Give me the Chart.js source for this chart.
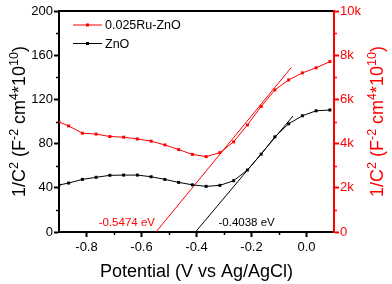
<!DOCTYPE html>
<html>
<head>
<meta charset="utf-8">
<script src="https://cdn.jsdelivr.net/npm/chart.js@4.4.1/dist/chart.umd.min.js"></script>
<style>
  html, body { margin: 0; padding: 0; background: #fff; }
  #chart { display: block; }
</style>
</head>
<body>
<canvas id="chart" width="392" height="284"></canvas>
<script>
// Potential (V vs Ag/AgCl) of each measured point
const potential = [-0.9, -0.865, -0.815, -0.765, -0.715, -0.665, -0.615, -0.565, -0.515, -0.465,
    -0.415, -0.365, -0.315, -0.265, -0.215, -0.165, -0.115, -0.065, -0.015, 0.035, 0.085];

// 1/C^2 values, ZnO on left axis, Ru-ZnO on right axis
const znoValues = [42.5, 44.3, 47.6, 49.5, 51.3, 51.5, 51.5, 50.0, 47.6, 44.9,
    42.7, 41.3, 42.2, 46.4, 56.1, 70.4, 86.1, 97.9, 105.2, 109.7, 110.4];
const ruZnoValues = [4980, 4800, 4470, 4430, 4320, 4290, 4210, 4110, 3940, 3730,
    3510, 3410, 3590, 4080, 4840, 5680, 6430, 6880, 7200, 7430, 7710];

// Mott-Schottky tangent lines (x-intercept to upper end)
const ruFitX = [-0.5474, -0.055];
const ruFitY = [0, 7450];
const znoFitX = [-0.4038, -0.049];
const znoFitY = [0, 105];

// Axis ticks
const xTicks = [-0.8, -0.6, -0.4, -0.2, 0.0];
const xMinorTicks = [-0.7, -0.5, -0.3, -0.1];
const yTicks = [0, 40, 80, 120, 160, 200];
const yMinorTicks = [20, 60, 100, 140, 180];
const y2Ticks = [0, 2000, 4000, 6000, 8000, 10000];
const y2MinorTicks = [1000, 3000, 5000, 7000, 9000];

const seriesLabels = ['0.025Ru-ZnO', 'ZnO'];
const fitLabels = ['-0.5474 eV', '-0.4038 eV'];

const RED = '#ff0000';
const BLACK = '#000000';
const FONT = "'Liberation Sans', Arial, sans-serif";

const toPoints = (xs, ys) => xs.map((x, i) => ({ x: x, y: ys[i] }));

// draws text with superscript parts, centered on (0,0) along current x direction
function drawRich(ctx, parts, color) {
    const big = '18px ' + FONT;
    const small = '12.5px ' + FONT;
    let total = 0;
    parts.forEach(p => {
        ctx.font = p.sup ? small : big;
        p.w = ctx.measureText(p.t).width;
        total += p.w;
    });
    let x = -total / 2;
    ctx.fillStyle = color;
    ctx.textBaseline = 'alphabetic';
    ctx.textAlign = 'left';
    parts.forEach(p => {
        ctx.font = p.sup ? small : big;
        ctx.fillText(p.t, x, p.sup ? -7 : 0);
        x += p.w;
    });
}

const yTitleParts = () => [
    { t: '1/C' }, { t: '2', sup: true }, { t: ' (F' }, { t: '-2', sup: true },
    { t: ' cm' }, { t: '4', sup: true }, { t: '*10' }, { t: '10', sup: true }, { t: ')' }
];

const decorPlugin = {
    id: 'decor',
    afterDraw(chart) {
        const ctx = chart.ctx;
        const area = chart.chartArea;
        const xs = chart.scales.x, ys = chart.scales.y, y2s = chart.scales.y2;
        ctx.save();

        // top frame
        ctx.strokeStyle = BLACK;
        ctx.lineWidth = 2;
        ctx.beginPath();
        ctx.moveTo(area.left, area.top);
        ctx.lineTo(area.right - 1, area.top);
        ctx.stroke();

        // minor ticks
        ctx.lineWidth = 1.5;
        ctx.strokeStyle = BLACK;
        xMinorTicks.forEach(v => {
            const px = Math.round(xs.getPixelForValue(v)) + 0.5;
            ctx.beginPath();
            ctx.moveTo(px, area.bottom);
            ctx.lineTo(px, area.bottom + 3);
            ctx.stroke();
        });
        yMinorTicks.forEach(v => {
            const py = Math.round(ys.getPixelForValue(v)) + 0.5;
            ctx.beginPath();
            ctx.moveTo(area.left, py);
            ctx.lineTo(area.left - 3, py);
            ctx.stroke();
        });
        ctx.strokeStyle = RED;
        y2MinorTicks.forEach(v => {
            const py = Math.round(y2s.getPixelForValue(v)) + 0.5;
            ctx.beginPath();
            ctx.moveTo(area.right, py);
            ctx.lineTo(area.right + 3, py);
            ctx.stroke();
        });

        // legend
        const colors = [RED, BLACK];
        seriesLabels.forEach((label, i) => {
            const ly = area.top + 14 + i * 18.5;
            const lx = area.left + 14;
            ctx.strokeStyle = colors[i];
            ctx.fillStyle = colors[i];
            ctx.lineWidth = 1;
            ctx.beginPath();
            ctx.moveTo(lx, ly);
            ctx.lineTo(lx + 29, ly);
            ctx.stroke();
            ctx.fillRect(lx + 13, ly - 1.5, 3, 3);
            ctx.fillStyle = BLACK;
            ctx.font = '12.5px ' + FONT;
            ctx.textBaseline = 'middle';
            ctx.textAlign = 'left';
            ctx.fillText(label, lx + 32, ly + 1);
        });

        // intercept labels
        ctx.font = '11.5px ' + FONT;
        ctx.textBaseline = 'alphabetic';
        ctx.fillStyle = RED;
        ctx.textAlign = 'right';
        ctx.fillText(fitLabels[0], xs.getPixelForValue(ruFitX[0]) - 1, area.bottom - 6);
        ctx.fillStyle = BLACK;
        ctx.textAlign = 'left';
        ctx.fillText(fitLabels[1], xs.getPixelForValue(znoFitX[0]) + 23, area.bottom - 6);

        // axis titles
        const cy = (area.top + area.bottom) / 2;
        ctx.save();
        ctx.translate(25, cy);
        ctx.rotate(-Math.PI / 2);
        drawRich(ctx, yTitleParts(), BLACK);
        ctx.restore();

        ctx.save();
        ctx.translate(383, cy);
        ctx.rotate(-Math.PI / 2);
        drawRich(ctx, yTitleParts(), RED);
        ctx.restore();

        ctx.save();
        ctx.translate((area.left + area.right) / 2, 277);
        drawRich(ctx, [{ t: 'Potential (V vs Ag/AgCl)' }], BLACK);
        ctx.restore();

        ctx.restore();
    }
};

const tickFont = { family: FONT, size: 13 };

const ctx = document.getElementById('chart');
const chart = new Chart(ctx, {
    type: 'line',
    data: {
        datasets: [
            {
                label: seriesLabels[0],
                data: toPoints(potential, ruZnoValues),
                yAxisID: 'y2',
                borderColor: RED,
                backgroundColor: RED,
                borderWidth: 1,
                pointStyle: 'rect',
                pointRadius: 2.1,
                pointBorderWidth: 0,
                tension: 0,
                clip: 0
            },
            {
                label: seriesLabels[1],
                data: toPoints(potential, znoValues),
                yAxisID: 'y',
                borderColor: BLACK,
                backgroundColor: BLACK,
                borderWidth: 1,
                pointStyle: 'rect',
                pointRadius: 2.1,
                pointBorderWidth: 0,
                tension: 0,
                clip: 0
            },
            {
                label: 'Ru-ZnO fit',
                data: toPoints(ruFitX, ruFitY),
                yAxisID: 'y2',
                borderColor: RED,
                borderWidth: 1,
                pointRadius: 0,
                clip: 0
            },
            {
                label: 'ZnO fit',
                data: toPoints(znoFitX, znoFitY),
                yAxisID: 'y',
                borderColor: BLACK,
                borderWidth: 1,
                pointRadius: 0,
                clip: 0
            }
        ]
    },
    options: {
        responsive: false,
        animation: false,
        layout: { padding: { top: 11, left: 0, right: 0, bottom: 0 } },
        plugins: {
            legend: { display: false },
            tooltip: { enabled: false }
        },
        scales: {
            x: {
                type: 'linear',
                min: -0.9,
                max: 0.1,
                afterBuildTicks: s => { s.ticks = xTicks.map(v => ({ value: v })); },
                afterFit: s => { s.height = 52; },
                grid: { drawOnChartArea: false, tickLength: 5, tickWidth: 2, tickColor: BLACK },
                border: { display: true, width: 2, color: BLACK },
                ticks: {
                    font: tickFont, color: BLACK, padding: 3, maxRotation: 0,
                    callback: v => v.toFixed(1)
                }
            },
            y: {
                position: 'left',
                min: 0,
                max: 200,
                afterBuildTicks: s => { s.ticks = yTicks.map(v => ({ value: v })); },
                afterFit: s => { s.width = 59; },
                grid: { drawOnChartArea: false, tickLength: 5, tickWidth: 2, tickColor: BLACK },
                border: { display: true, width: 2, color: BLACK },
                ticks: { font: tickFont, color: BLACK, padding: 1 }
            },
            y2: {
                position: 'right',
                min: 0,
                max: 10000,
                afterBuildTicks: s => { s.ticks = y2Ticks.map(v => ({ value: v })); },
                afterFit: s => { s.width = 58; },
                grid: { drawOnChartArea: false, tickLength: 5, tickWidth: 2, tickColor: RED },
                border: { display: true, width: 2, color: RED },
                ticks: {
                    font: tickFont, color: RED, padding: 1,
                    callback: v => v === 0 ? '0' : (v / 1000) + 'k'
                }
            }
        }
    },
    plugins: [decorPlugin]
});
</script>
</body>
</html>
